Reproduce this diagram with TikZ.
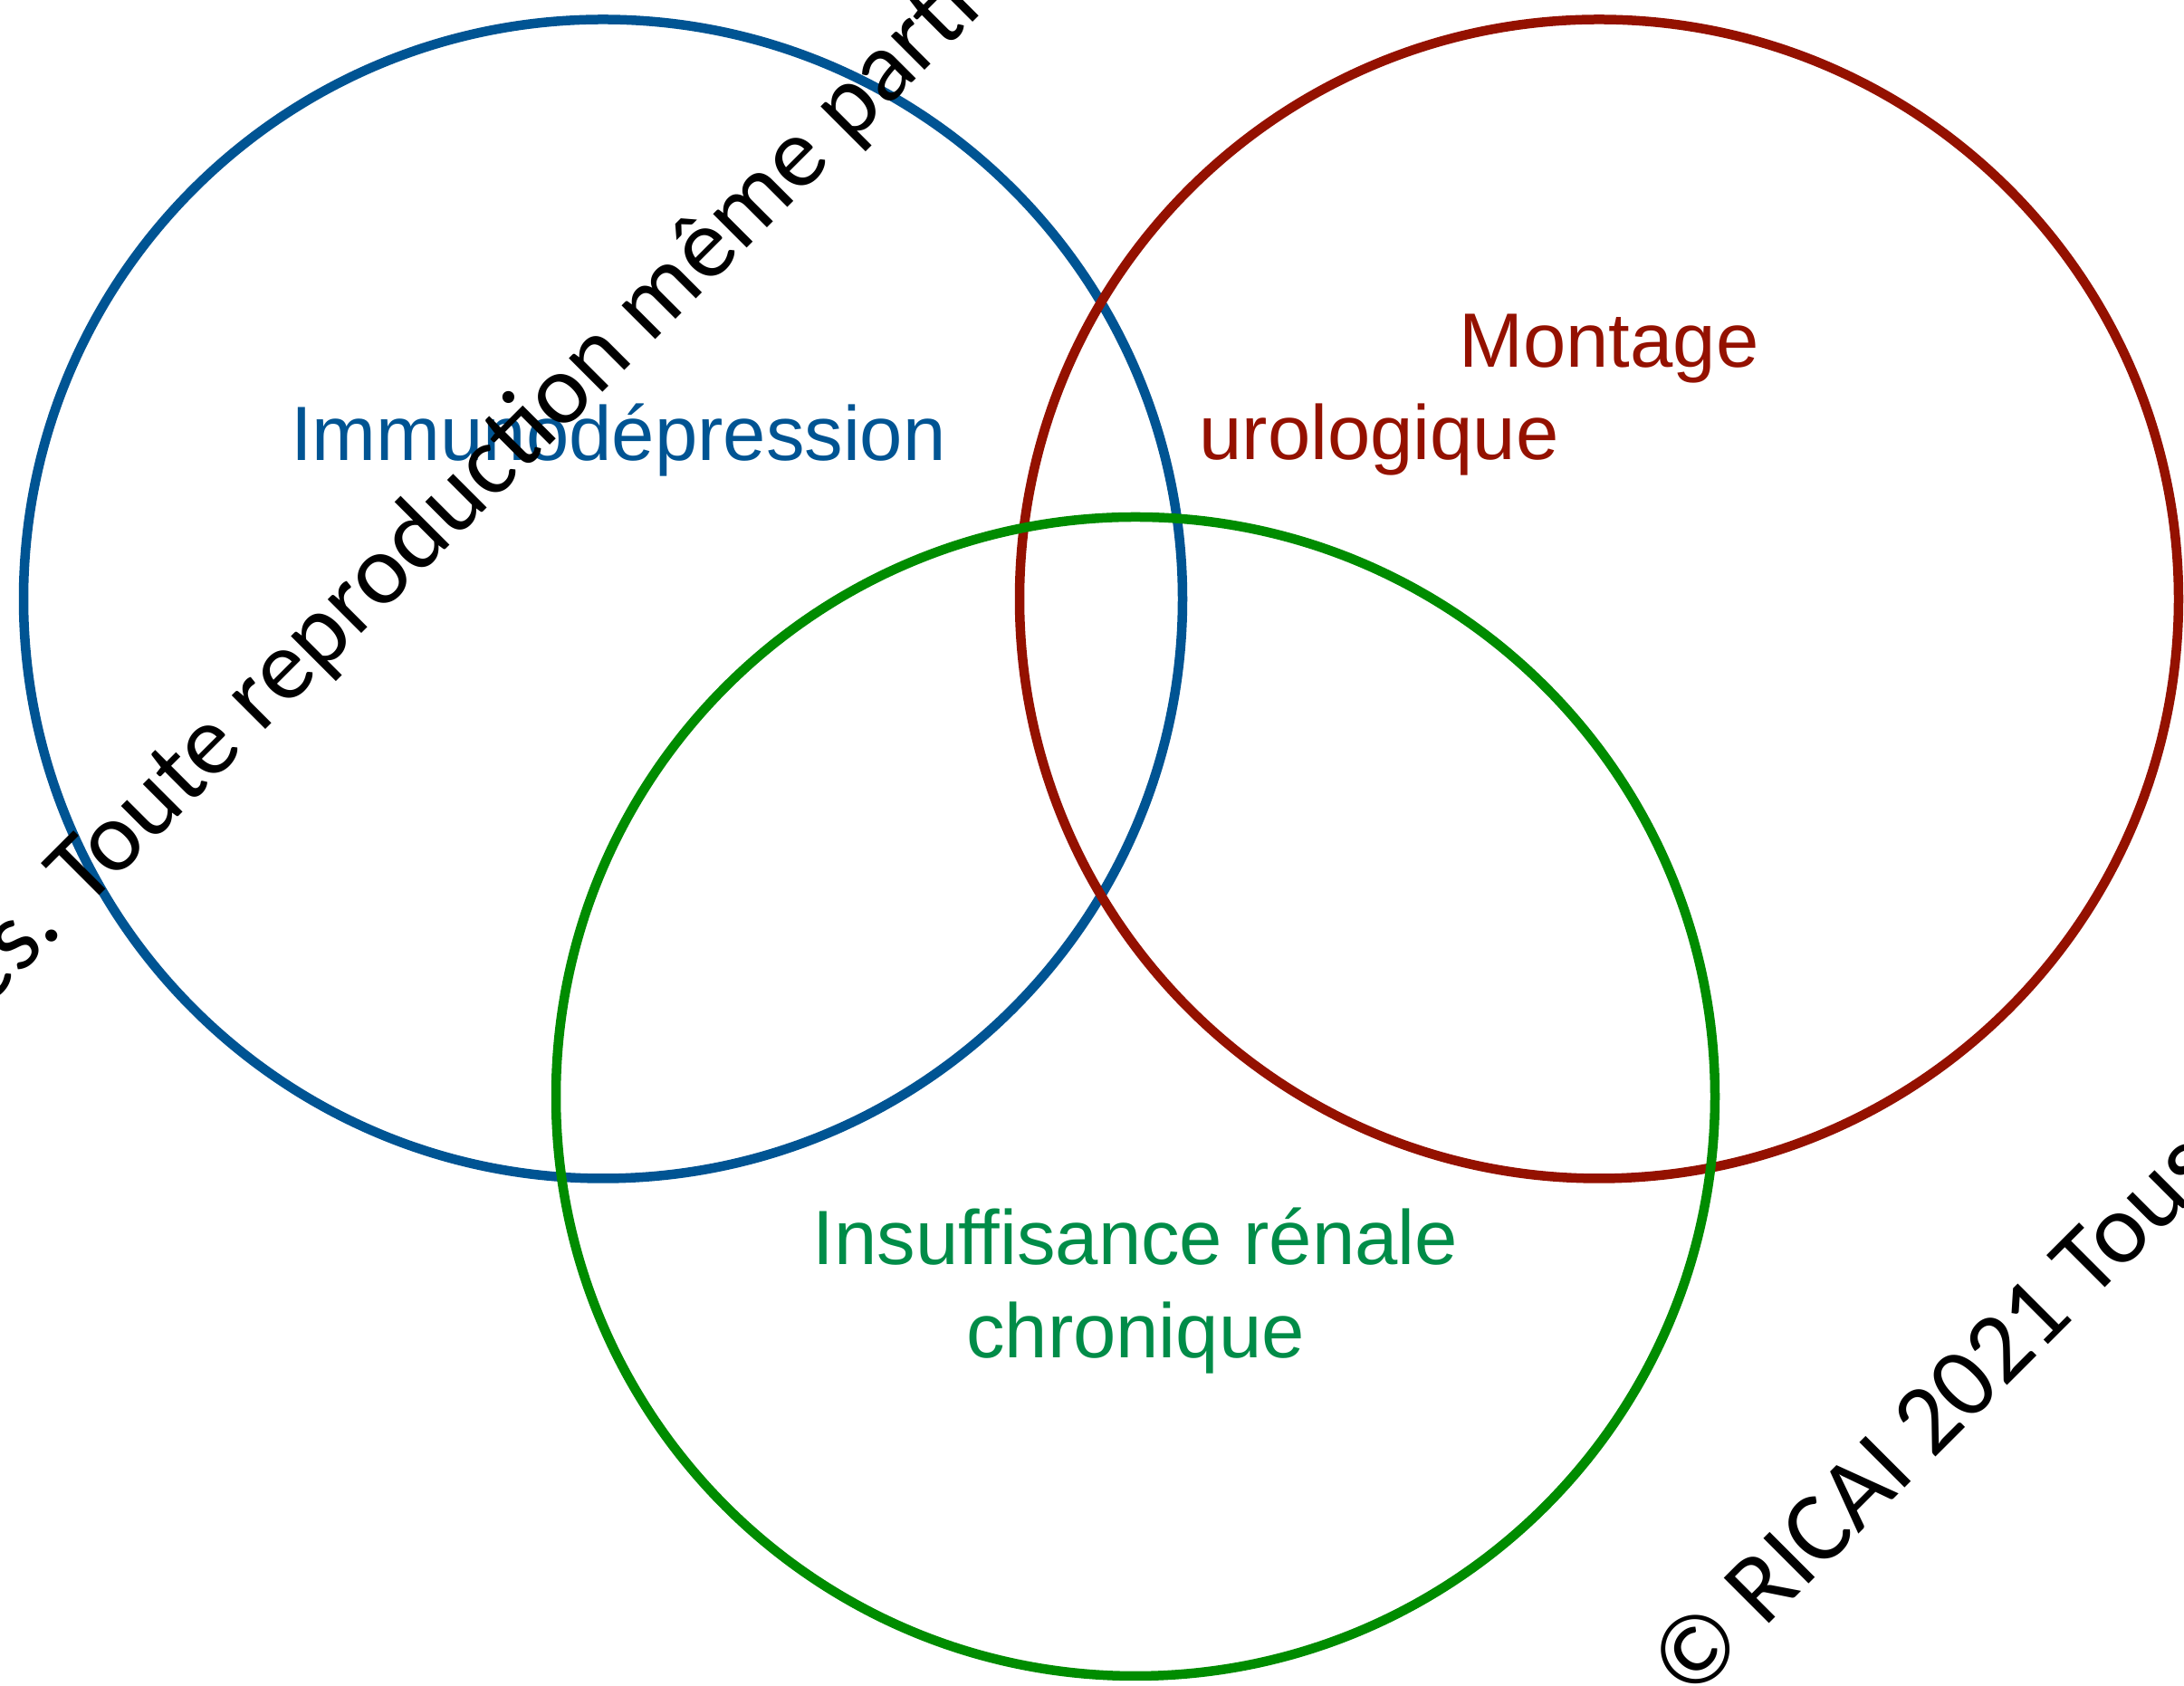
\documentclass[tikz,border=0pt]{standalone}
\usepackage{fontspec}
\setmainfont{Liberation Sans}
\newfontfamily\wmfont{Carlito}
\definecolor{immunoblue}{RGB}{0,84,147}
\definecolor{urored}{RGB}{148,17,0}
\definecolor{ircgreen}{RGB}{0,140,0}
\definecolor{irctext}{RGB}{0,140,72}
\begin{document}
\begin{tikzpicture}[ring/.style={draw=#1,line width=0.105cm},
setlabel/.style={inner sep=0pt,anchor=base,font=\fontsize{24.2}{29.3}\selectfont},
wmtext/.style={inner sep=0pt,anchor=base west,rotate=45,text=black,font=\wmfont\fontsize{31.3}{36}\selectfont}]
\useasboundingbox (0,0) rectangle (24.12,18.62);
\clip (0,0) rectangle (24.12,18.62);
% the three sets
\draw[ring=immunoblue] (6.66,12.005) circle (6.40);
\draw[ring=urored] (17.66,12.005) circle (6.40);
\draw[ring=ircgreen] (12.54,6.51) circle (6.40);
% labels
\node[setlabel,text=immunoblue] (immuno) at (6.83,13.53) {Immunodépression};
\node[setlabel,text=urored] (montage) at (17.77,14.56) {Montage};
\node[setlabel,text=urored] (urolo) at (15.23,13.54) {urologique};
\node[setlabel,text=irctext] (irc) at (12.54,4.65) {Insuffisance rénale};
\node[setlabel,text=irctext] (chron) at (12.54,3.62) {chronique};
% watermark
\node[wmtext] (wmupper) at (-0.18,7.45) {és. Toute reproduction même partielle};
\node[wmtext] (wmlower) at (18.66,-0.19) {© RICAI 2021 Tous};
\end{tikzpicture}
\end{document}
